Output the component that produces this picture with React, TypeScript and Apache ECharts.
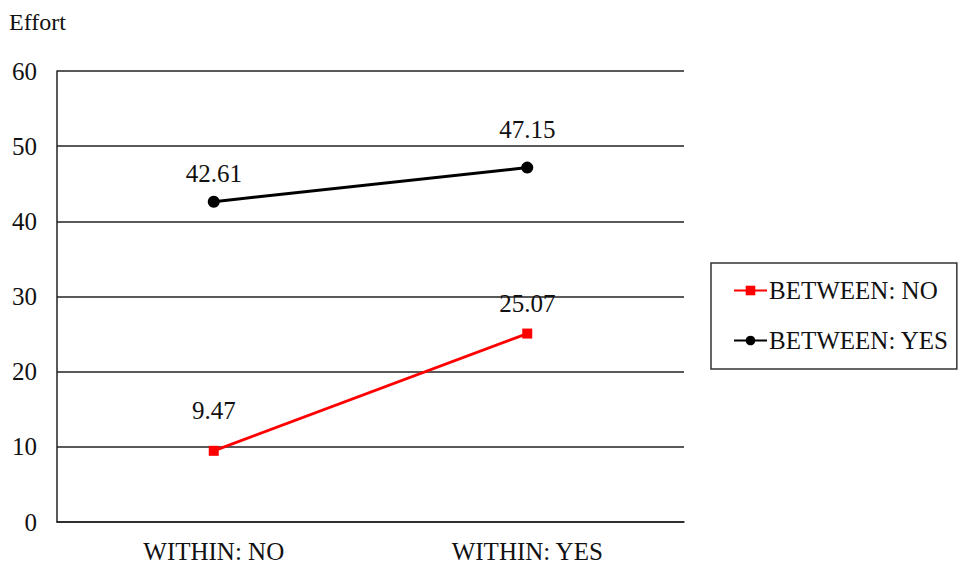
import React, { useEffect, useRef } from "react";
import * as echarts from "echarts";

const categories = ["WITHIN: NO", "WITHIN: YES"];
const betweenNo = [9.47, 25.07];
const betweenYes = [42.61, 47.15];
const seriesNames = ["BETWEEN: NO", "BETWEEN: YES"];
const yAxisTitle = "Effort";

const FONT = "'Liberation Serif', 'Times New Roman', serif";

export default function App() {
  const ref = useRef<HTMLDivElement>(null);
  useEffect(() => {
    document.body.style.margin = "0";
    const chart = echarts.init(ref.current!, null, { renderer: "svg" });
    const lbl = { fontFamily: FONT, fontSize: 25, color: "#111" };
    chart.setOption({
      animation: false,
      backgroundColor: "#ffffff",
      textStyle: { fontFamily: FONT },
      grid: { left: 57, top: 71, width: 627, height: 451, containLabel: false },
      title: {
        text: yAxisTitle,
        left: 9,
        top: 10,
        padding: 0,
        textStyle: { ...lbl, fontWeight: "normal", fontSize: 24 },
      },
      legend: {
        orient: "vertical",
        left: 711,
        top: 263,
        padding: [15, 8, 16, 22],
        itemGap: 25,
        itemWidth: 33,
        itemHeight: 12,
        borderColor: "#333",
        borderWidth: 1.5,
        textStyle: { ...lbl, padding: [0, 0, 0, -3] },
        data: seriesNames,
      },
      xAxis: {
        type: "category",
        data: categories,
        axisLine: { lineStyle: { color: "#222", width: 1.5 } },
        axisTick: { show: false },
        axisLabel: { ...lbl, margin: 17 },
      },
      yAxis: {
        type: "value",
        min: 0,
        max: 60,
        interval: 10,
        axisLine: { show: true, lineStyle: { color: "#222", width: 1.5 } },
        axisTick: { show: false },
        axisLabel: { ...lbl, margin: 20 },
        splitLine: { lineStyle: { color: "#222", width: 1.5 } },
      },
      series: [
        {
          name: seriesNames[0],
          type: "line",
          data: [
            { value: betweenNo[0], label: { distance: 23 } },
            { value: betweenNo[1], label: { distance: 13 } },
          ],
          color: "#ff0000",
          symbol: "rect",
          symbolSize: 10,
          lineStyle: { width: 3, color: "#ff0000" },
          itemStyle: { color: "#ff0000" },
          label: { show: true, position: "top", ...lbl },
        },
        {
          name: seriesNames[1],
          type: "line",
          data: [
            { value: betweenYes[0], label: { distance: 10 } },
            { value: betweenYes[1], label: { distance: 20 } },
          ],
          color: "#000000",
          symbol: "circle",
          symbolSize: 12,
          lineStyle: { width: 3, color: "#000000" },
          itemStyle: { color: "#000000" },
          label: { show: true, position: "top", ...lbl },
        },
      ],
    });
    return () => chart.dispose();
  }, []);
  return <div ref={ref} style={{ width: 958, height: 565 }} />;
}
